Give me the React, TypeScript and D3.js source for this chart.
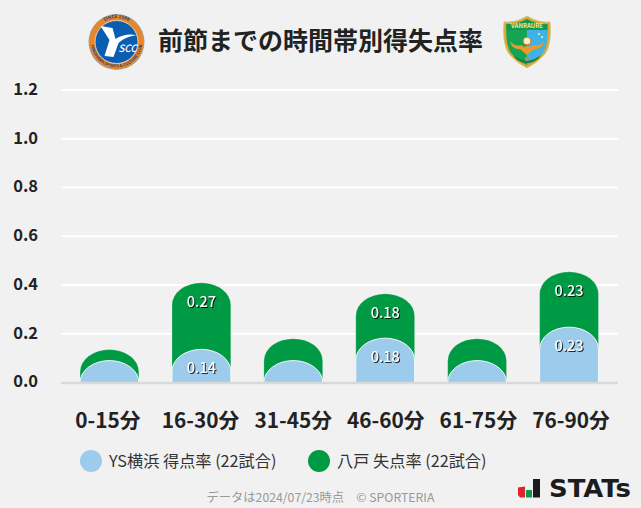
import React from "react";
import * as d3 from "d3";

const categories = ["0-15分", "16-30分", "31-45分", "46-60分", "61-75分", "76-90分"];
const homeValues = [0.09, 0.136, 0.09, 0.182, 0.09, 0.227];
const awayValues = [0.045, 0.273, 0.09, 0.182, 0.09, 0.227];
const yTicks = [0, 0.2, 0.4, 0.6, 0.8, 1.0, 1.2];
const legendLabels = ["YS横浜 得点率 (22試合)", "八戸 失点率 (22試合)"];
const title = "前節までの時間帯別得失点率";
const footer = "データは2024/07/23時点　© SPORTERIA";

const WIDTH = 641;
const HEIGHT = 508;
const BLUE = "#9ccbec";
const GREEN = "#009944";
const FONT = "'Noto Sans CJK JP', 'Noto Sans', sans-serif";
const MIN_LABEL = 0.1; // small values have no label in the original

const x = d3.scaleBand().domain(categories).range([63.5, 615]).paddingInner(0.36).paddingOuter(0.18);
const xLabel = d3.scalePoint().domain(categories).range([108, 571]); // labels sit a bit wider than the bars
const y = d3.scaleLinear().domain([0, 1.2]).range([382.5, 90]);
const fmtTick = d3.format(".1f");
const fmtVal = d3.format(".2f");

// bar with an elliptical top, sides go straight down to the baseline
const domeBar = (left: number, w: number, top: number, bottom: number) => {
  const rx = w / 2;
  const ry = Math.min(22, bottom - top);
  return `M${left},${bottom}V${top + ry}A${rx},${ry} 0 0 1 ${left + w},${top + ry}V${bottom}Z`;
};

const shadow = "drop-shadow(1px 1px 0.4px rgba(0,0,0,0.8))";

const YsccLogo = () => (
  <g transform="translate(116.5,42)">
    <defs>
      <path id="ringTop" d="M-24,0 A24,24 0 0 1 24,0" />
      <path id="ringBottom" d="M-25.5,0 A25.5,25.5 0 0 0 25.5,0" />
    </defs>
    <circle r={28} fill="#9aa5ad" />
    <circle r={27.2} fill="#e8862a" />
    <circle r={21.5} fill="#0b5db2" stroke="#f6e3c8" strokeWidth={0.8} />
    <path d="M-16,-16 L-4,-14 L-1,-3 Q8,-9 20,-7 Q8,-5 2,1 L-3,15 L-12,14 L-7,-2 Z" fill="#fff" />
    <text x={11} y={10} fontSize={10} fontFamily={FONT} fontStyle="italic" fontWeight={500} fill="#fff" textAnchor="middle">SCC</text>
    <text fontSize={4.6} fontFamily={FONT} fontWeight={700} fill="#26407f" textAnchor="middle">
      <textPath href="#ringTop" startOffset="50%">SINCE 1986</textPath>
    </text>
    <text fontSize={4} fontFamily={FONT} fontWeight={700} fill="#26407f" textAnchor="middle">
      <textPath href="#ringBottom" startOffset="50%">YOKOHAMA SPORTS &amp; CULTURE CLUB</textPath>
    </text>
  </g>
);

const VanraureLogo = () => (
  <g transform="translate(527,42)">
    <path d="M-23,-20 Q-11,-19 0,-26 Q11,-19 23,-20 Q25,2 18,12 Q10,21 0,26 Q-10,21 -18,12 Q-25,2 -23,-20 Z" fill="#e9a42a" stroke="#b5cf96" strokeWidth={0.8} />
    <path d="M-20.5,-18 Q-10,-17 0,-23 V23 Q-9,19 -16,11 Q-22,2 -20.5,-18 Z" fill="#14a552" />
    <path d="M0,-23 Q10,-17 20.5,-18 Q22,2 16,11 Q9,19 0,23 Z" fill="#3fb2e6" />
    <path d="M-20.5,-18 Q-10,-17 0,-23 Q10,-17 20.5,-18 V-12 H-20.5 Z" fill="#149a4e" />
    <text y={-14.5} fontSize={6} fontFamily={FONT} fontWeight={700} fill="#f2e6a0" textAnchor="middle">VANRAURE</text>
    <circle cx={12} cy={-8} r={1} fill="#e4f5fb" />
    <circle cx={15} cy={-5} r={1} fill="#e4f5fb" />
    <path d="M-17,-1 Q-12,5 -6,3 Q-3,6 0,4 Q3,6 6,3 Q12,5 17,-1 Q15,8 7,7 L0,13 L-7,7 Q-15,8 -17,-1 Z" fill="#ec9a2c" />
    <circle r={3.8} cy={-1} fill="#f6eecb" stroke="#e07b2a" strokeWidth={1.1} />
    <path d="M-14,13 Q0,24 14,13 L11,17 Q0,25 -11,17 Z" fill="#1b7f3a" />
    <circle cy={17} r={2.2} fill="#8a9a8f" />
  </g>
);

const StatsLogo = () => (
  <g>
    <path d="M518,487.5 L525,486.5 V497.5 H520 L518,495 Z" fill="#e3232c" />
    <rect x={526} y={490} width={6} height={7.5} fill="#0a9a48" />
    <rect x={533} y={479} width={7} height={18.5} fill="#1c1c1c" />
    <text x={549} y={497} fontSize={24} fontFamily="'DejaVu Sans', sans-serif" fontWeight={700} fill="#1c1c1c" textLength={82} lengthAdjust="spacingAndGlyphs">STATs</text>
  </g>
);

export default function App() {
  const w = x.bandwidth();
  return (
    <svg
      width={WIDTH}
      height={HEIGHT}
      viewBox={`0 0 ${WIDTH} ${HEIGHT}`}
      style={{ position: "fixed", left: 0, top: 0, background: "#f1f1f1" }}
    >
      <YsccLogo />
      <VanraureLogo />
      <text x={320.5} y={50} textAnchor="middle" fontFamily={FONT} fontWeight={700} fontSize={25} fill="#222">{title}</text>

      {yTicks.filter((t) => t > 0).map((t) => (
        <line key={t} x1={61} x2={618} y1={y(t)} y2={y(t)} stroke="#fff" strokeWidth={2} />
      ))}
      {yTicks.map((t) => (
        <text key={t} x={38} y={y(t) - 1} dy="0.36em" textAnchor="end" fontFamily={FONT} fontWeight={700} fontSize={16.5} fill="#222">{fmtTick(t)}</text>
      ))}

      {categories.map((c, i) => {
        const left = x(c)!;
        return (
          <g key={c}>
            <path d={domeBar(left, w, y(homeValues[i] + awayValues[i]), y(0))} fill={GREEN} stroke="#fff" strokeOpacity={0.35} strokeWidth={0.7} />
            <path d={domeBar(left, w, y(homeValues[i]), y(0))} fill={BLUE} stroke="#fff" strokeOpacity={0.9} strokeWidth={1} />
          </g>
        );
      })}
      <line x1={61} x2={618} y1={y(0) + 0.5} y2={y(0) + 0.5} stroke="#d9d9d9" strokeWidth={2.5} />

      {categories.map((c, i) => {
        const cx = x(c)! + w / 2;
        return (
          <g key={c} textAnchor="middle" fontFamily={FONT} fontWeight={500} fontSize={14.5} fill="#fff" style={{ filter: shadow }}>
            {awayValues[i] >= MIN_LABEL && <text x={cx} y={y(homeValues[i] + awayValues[i]) + 24}>{fmtVal(awayValues[i])}</text>}
            {homeValues[i] >= MIN_LABEL && <text x={cx} y={y(homeValues[i]) + 24}>{fmtVal(homeValues[i])}</text>}
          </g>
        );
      })}

      {categories.map((c) => (
        <text key={c} x={xLabel(c)} y={428} textAnchor="middle" fontFamily={FONT} fontWeight={700} fontSize={20.8} fill="#222">{c}</text>
      ))}

      <circle cx={91} cy={461} r={11} fill={BLUE} />
      <text x={109} y={466.5} fontFamily={FONT} fontSize={16.2} fill="#333">{legendLabels[0]}</text>
      <circle cx={319} cy={461} r={11} fill={GREEN} />
      <text x={337} y={466.5} fontFamily={FONT} fontSize={16.2} fill="#333">{legendLabels[1]}</text>

      <text x={320.5} y={502} textAnchor="middle" fontFamily={FONT} fontSize={12.25} fill="#999">{footer}</text>
      <StatsLogo />
    </svg>
  );
}
